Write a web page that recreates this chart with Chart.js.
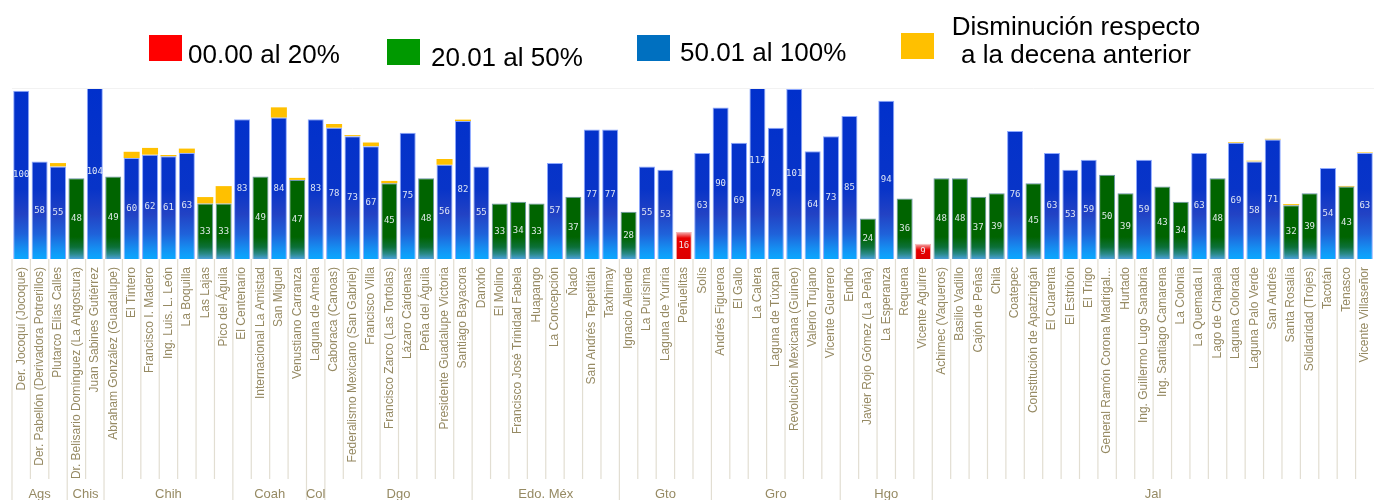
<!DOCTYPE html>
<html>
<head>
<meta charset="utf-8">
<script src="https://cdn.jsdelivr.net/npm/chart.js@4.4.1/dist/chart.umd.min.js"></script>
<style>
  body { margin: 0; background: #fff; }
  #grafica { display: block; }
</style>
</head>
<body>
<canvas id="grafica" width="1375" height="500"></canvas>
<script>
// presas (categorias del eje x)
const presas = [
  'Der. Jocoqui (Jocoque)', 'Der. Pabellón (Derivadora Potrerillos)', 'Plutarco Elías Calles',
  'Dr. Belisario Domínguez (La Angostura)', 'Juan Sabines Gutiérrez',
  'Abraham González (Guadalupe)', 'El Tintero', 'Francisco I. Madero', 'Ing. Luis. L. León', 'La Boquilla', 'Las Lajas', 'Pico del Águila',
  'El Centenario', 'Internacional La Amistad', 'San Miguel', 'Venustiano Carranza',
  'Laguna de Amela',
  'Caboraca (Canoas)', 'Federalismo Mexicano (San Gabriel)', 'Francisco Villa', 'Francisco Zarco (Las Tortolas)', 'Lázaro Cárdenas', 'Peña del Águila', 'Presidente Guadalupe Victoria', 'Santiago Bayacora',
  'Danxhó', 'El Molino', 'Francisco José Trinidad Fabela', 'Huapango', 'La Concepción', 'Ñado', 'San Andrés Tepetitlán', 'Taxhimay',
  'Ignacio Allende', 'La Purísima', 'Laguna de Yuriria', 'Peñuelitas', 'Solís',
  'Andrés Figueroa', 'El Gallo', 'La Calera', 'Laguna de Túxpan', 'Revolución Mexicana (Guineo)', 'Valerio Trujano', 'Vicente Guerrero',
  'Endhó', 'Javier Rojo Gómez (La Peña)', 'La Esperanza', 'Requena', 'Vicente Aguirre',
  'Achimec (Vaqueros)', 'Basilio Vadillo', 'Cajón de Peñas', 'Chila', 'Coatepec', 'Constitución de Apatzingán', 'El Cuarenta', 'El Estribón', 'El Trigo', 'General Ramón Corona Madrigal...', 'Hurtado', 'Ing. Guillermo Lugo Sanabria', 'Ing. Santiago Camarena', 'La Colonia', 'La Quemada II', 'Lago de Chapala', 'Laguna Colorada', 'Laguna Palo Verde', 'San Andrés', 'Santa Rosalía', 'Solidaridad (Trojes)', 'Tacotán', 'Tenasco', 'Vicente Villaseñor'
];

// % de llenado
const llenado = [
  100, 58, 55,
  48, 104,
  49, 60, 62, 61, 63, 33, 33,
  83, 49, 84, 47,
  83,
  78, 73, 67, 45, 75, 48, 56, 82,
  55, 33, 34, 33, 57, 37, 77, 77,
  28, 55, 53, 16, 63,
  90, 69, 117, 78, 101, 64, 73,
  85, 24, 94, 36, 9,
  48, 48, 37, 39, 76, 45, 63, 53, 59, 50, 39, 59, 43, 34, 63, 48, 69, 58, 71, 32, 39, 54, 43, 63
];

// disminucion respecto a la decena anterior
const disminucion = [
  0, 0, 2,
  0, 0,
  0, 3.7, 4, 0.8, 2.6, 3.8, 10.3,
  0, 0, 6.1, 1.2,
  0,
  2.2, 0.6, 2.2, 1.4, 0, 0, 3.4, 0.8,
  0, 0, 0, 0, 0, 0, 0, 0,
  0, 0, 0, 0, 0,
  0, 0, 0, 0, 0, 0, 0,
  0, 0, 0, 0, 0,
  0, 0, 0, 0, 0, 0, 0, 0, 0, 0, 0, 0, 0, 0, 0, 0, 0.4, 0.4, 0.4, 0.6, 0, 0, 0.4, 0.3
];

const estados = ['Ags', 'Chis', 'Chih', 'Coah', 'Col', 'Dgo', 'Edo. Méx', 'Gto', 'Gro', 'Hgo', 'Jal'];
const presasPorEstado = [3, 2, 7, 4, 1, 8, 8, 5, 7, 5, 24];

const leyendaTextos = [['00.00 al 20%'], ['20.01 al 50%'], ['50.01 al 100%'], ['Disminución respecto', 'a la decena anterior']];
const leyendaColores = ['#ff0000', '#009900', '#0070c0', '#ffc000'];

const colorTexto = '#968a63';

function tipo(v) {
  if (v <= 20) return 'rojo';
  if (v <= 50) return 'verde';
  return 'azul';
}

function fondo(ctx) {
  const solidos = { rojo: '#e60000', verde: '#006400', azul: '#0030cc' };
  if (ctx.type !== 'data') return solidos.azul;
  const v = ctx.raw;
  const t = tipo(v);
  const ca = ctx.chart.chartArea;
  if (!ca) return solidos[t];
  const c = ctx.chart.ctx;
  const h = ca.bottom - ca.top;
  if (t === 'rojo') {
    const top = ctx.chart.scales.y.getPixelForValue(v);
    const g = c.createLinearGradient(0, top, 0, ca.bottom);
    const hb = Math.max(ca.bottom - top, 1);
    g.addColorStop(0, '#f5b4b4');
    g.addColorStop(Math.min(6 / hb, 1), '#e80000');
    g.addColorStop(1, '#dc0000');
    return g;
  }
  const g = c.createLinearGradient(0, ca.bottom, 0, ca.top);
  if (t === 'verde') {
    g.addColorStop(0, '#4aa0d8');
    g.addColorStop(5 / h, '#2a8a8a');
    g.addColorStop(12 / h, '#0c7038');
    g.addColorStop(22 / h, '#006400');
    g.addColorStop(1, '#006400');
  } else {
    g.addColorStop(0, '#0aa8ff');
    g.addColorStop(10 / h, '#1590f2');
    g.addColorStop(25 / h, '#1f62da');
    g.addColorStop(45 / h, '#2242c4');
    g.addColorStop(70 / h, '#0834c8');
    g.addColorStop(1, '#0030cc');
  }
  return g;
}

function borde(ctx) {
  if (ctx.type !== 'data') return '#8aa8ff';
  const t = tipo(ctx.raw);
  if (t === 'rojo') return '#f5b4b4';
  if (t === 'verde') return 'rgba(70,120,150,0.8)';
  return 'rgba(130,160,255,0.9)';
}

// etiquetas de valor dentro de cada barra
const etiquetasValor = {
  id: 'etiquetasValor',
  afterDatasetsDraw(chart) {
    const c = chart.ctx;
    const meta = chart.getDatasetMeta(0);
    const y = chart.scales.y;
    c.save();
    c.font = '9px "DejaVu Sans Mono"';
    c.fillStyle = 'rgba(240,244,250,0.92)';
    c.textAlign = 'center';
    c.textBaseline = 'middle';
    meta.data.forEach((bar, i) => {
      c.fillText(String(llenado[i]), bar.x, y.getPixelForValue(llenado[i] / 2));
    });
    c.restore();
  }
};

// lineas separadoras y nombres de estados
const separadores = {
  id: 'separadores',
  afterDraw(chart) {
    const c = chart.ctx;
    const ca = chart.chartArea;
    const n = presas.length;
    const w = (ca.right - ca.left) / n;
    const fronteras = [0];
    let acc = 0;
    presasPorEstado.forEach(k => { acc += k; fronteras.push(acc); });
    c.save();
    c.strokeStyle = '#e2ded2';
    c.lineWidth = 1.2;
    for (let i = 0; i < n; i++) {
      const x = ca.left + i * w;
      const largo = fronteras.includes(i) ? 500 : 479;
      c.beginPath();
      c.moveTo(x, ca.bottom);
      c.lineTo(x, largo);
      c.stroke();
    }
    c.font = '13px "Liberation Sans"';
    c.fillStyle = colorTexto;
    c.textAlign = 'center';
    c.textBaseline = 'middle';
    estados.forEach((e, k) => {
      const x0 = ca.left + fronteras[k] * w;
      const x1 = ca.left + fronteras[k + 1] * w;
      c.fillText(e, (x0 + x1) / 2, 494);
    });
    // borde superior tenue
    c.strokeStyle = '#f2f2f2';
    c.lineWidth = 1;
    c.beginPath();
    c.moveTo(ca.left, ca.top - 0.5);
    c.lineTo(ca.right, ca.top - 0.5);
    c.stroke();
    c.restore();
  }
};

// leyenda
const leyenda = {
  id: 'leyenda',
  afterDraw(chart) {
    const c = chart.ctx;
    const cuadros = [[149, 35], [387, 39], [637, 35], [901, 33]];
    const textos = [[188, [63]], [431, [66]], [680, [61]], [1076, [35, 63]]];
    c.save();
    c.font = '26px "Liberation Sans"';
    c.fillStyle = '#000';
    leyendaTextos.forEach((lineas, k) => {
      c.fillStyle = leyendaColores[k];
      c.fillRect(cuadros[k][0], cuadros[k][1], 33, 26);
      c.fillStyle = '#000';
      c.textAlign = lineas.length > 1 ? 'center' : 'left';
      lineas.forEach((t, j) => c.fillText(t, textos[k][0], textos[k][1][j]));
    });
    c.restore();
  }
};

Chart.defaults.font.family = '"Liberation Sans", Arial, sans-serif';

new Chart(document.getElementById('grafica'), {
  type: 'bar',
  data: {
    labels: presas,
    datasets: [
      {
        label: 'Llenado',
        data: llenado,
        backgroundColor: fondo,
        borderColor: borde,
        borderWidth: 1,
        barPercentage: 0.87,
        categoryPercentage: 1
      },
      {
        label: 'Disminución',
        data: disminucion,
        backgroundColor: '#ffc000',
        borderWidth: 0,
        barPercentage: 0.87,
        categoryPercentage: 1
      }
    ]
  },
  options: {
    responsive: false,
    animation: false,
    layout: { padding: { top: 89, left: 12, right: 1, bottom: 0 } },
    plugins: {
      legend: { display: false },
      tooltip: { enabled: false }
    },
    scales: {
      x: {
        stacked: true,
        offset: true,
        grid: { display: false, drawTicks: false },
        border: { display: false },
        ticks: {
          autoSkip: false,
          maxRotation: 90,
          minRotation: 90,
          padding: 8,
          color: colorTexto,
          font: { size: 12 }
        },
        afterFit(scale) {
          scale.height = 241;
          scale.paddingLeft = 0;
          scale.paddingRight = 0;
        }
      },
      y: {
        display: false,
        stacked: true,
        min: 0,
        max: 101
      }
    }
  },
  plugins: [etiquetasValor, separadores, leyenda]
});
</script>
</body>
</html>
